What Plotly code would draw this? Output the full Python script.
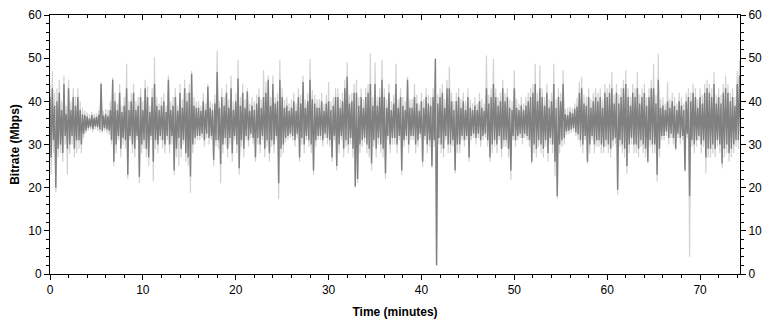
import numpy as np
import plotly.graph_objects as go

# Bitrate, in bins of 0.25 minute.
# dark_hi / dark_lo: dark gray series max / min per bin
# light_hi / light_lo: light gray series max / min per bin
dark_hi = [
    41,43,39,40, 42,38,44,37, 43,38,41,39, 41,38,37,36.8, 36.5,36,36.8,36.2,
    36.4,36.9,44,36.7, 37,36.6,38,45, 40,38,42,37.5, 39,43,38,40, 42,38,39,41,
    38,43,41,37.5, 41,44,39,38, 39,40,37.5,45, 38,39,41,37.8, 42,38.5,43,40,
    42,46.4,39,38.5, 38.5,37.8,40,38, 43.4,38.5,38,39.5, 46.8,38.5,41,39, 42,38.5,43,38,
    40,45.3,39,42, 38.5,42.3,37.8,39, 38,39.5,41,38.5, 41,42,45,39, 44,39.5,40,45,
    41,38.5,39,37.8, 38.5,40,37.8,41, 39.5,44.5,38.5,40, 45,40.5,39.5,38.5, 38.5,40,37.8,39.5,
    40,38,39,41, 41,38.5,40,43, 45.7,39.5,40,42, 42,39,41,38.5, 41,42,44,39,
    44,39,41,45, 41,38.5,42,38, 39.5,44,38.5,41, 39,38,45,38.5, 38.5,41,39.5,37.8,
    40,38.5,41,39.5, 39,41,49.8,39.5, 41,42,38.5,43, 43,40,38,40, 41,38.5,40,38,
    41,38.5,38,39, 38,40,38.5,37.8, 43,39.5,41,44, 41,39,40,43, 40,41,38.5,38,
    43,38.5,38,39, 38,39,40,41, 42,44,40,43, 41,39,42,38.5, 40,44,38.5,41,
    40,44,37,36.8, 37.6,37.2,38.3,38.8, 42,43,39.5,39, 41,38.5,40,41, 40,41,38.5,42,
    41,42,43,39.5, 42,39.5,41,43, 44,41,39,42, 41,43,39.5,41, 42,39,41,43,
    43,39.5,45,38.5, 39,38,40,38.5, 40,39,38,40, 39,38,40,41, 40,42,41,38.5,
    41,39.5,42,43, 42,41,44,39.5, 41,39.5,42,43, 42,40,41,39, 44,46,
]
dark_lo = [
    27,31,20,29, 30,28,32,29, 30,32,29,31, 31,30,32.5,33.2, 33.8,34,33.6,34.2,
    34,33.5,33.2,33.8, 33.5,33.2,31,26, 30,32,29,31.5, 31,23,32,30, 29,32,22.5,30,
    31,29,27,32, 26,31,30,32, 31,30,32,30, 32,24,29,31.5, 29,31,28,27,
    22.6,30,31.5,32, 32,32.5,31,32.5, 31.5,32,26.4,31, 31,25.4,30,31.5, 29,31.5,28,32,
    30,24.5,31,29, 32,31,32.5,31.5, 27,31.5,30,32, 29,31,28,31, 30,32,21,29,
    30,31.5,32,32.5, 32,31,32.5,27, 31.5,30,32,31, 30,24,31,32, 32,31,32.5,31.5,
    31,27,32,25, 30,32,29,31, 30,31.5,29,20.3, 22,30,31,31.5, 30,29,25.6,31,
    29,31.5,30,29, 23.3,32,30,31.5, 31.5,30,32,24, 31,32,30,32, 32,30,31,32.5,
    26,32,30,31, 25,31,2.0,31.5, 30,29,32,30, 30,31,24,30, 30,32,31,32,
    27,32,32.5,31.5, 32.5,31,32,32.5, 31,27,30,31, 30,32,29,31, 31,29,24,32,
    31,32,32.5,31.5, 32.5,32,31,26, 30,29,31,30, 29,31,28,31.5, 30,26,18,30,
    31,31.5,33,33.2, 33.5,33.8,32.8,32.3, 31,30,32,26, 30,32,30,31, 31,30,29.5,31,
    30,29,31,31.5, 19.5,31,30,29, 25,30,31.5,30, 30,29,31,30, 29,26,31,30,
    30,23,29,32, 32,33,31.5,32.5, 31.5,29,32.5,31.5, 32,24,32.5,18, 31,30,31,32,
    30,31,27,29, 29,30,29,31, 30,25.6,29,30, 28,29,30,31, 31,32,
]
light_hi = [
    44,47,42,43, 45,40,46,39, 45,40,43,41, 43,40,38.5,37.8, 37.4,37,37.6,37.1,
    37.3,37.9,44.5,37.8, 38.2,38,40,45.5, 42,39.5,44,39, 41,48.7,40,42, 44,40,41,43,
    40,45,43.5,39, 43,50.2,41,39.5, 41,42,39,46, 40,41,43,39, 44,40.5,45,42,
    44,47,41,40, 40,39,42,39.5, 44,40,39.5,41.5, 51.7,40,43,41, 44,40.5,46,40,
    42,49.5,41,44, 40.5,43,39.5,41, 40,41.5,43,40.5, 47.2,44.5,46,41, 46,41,42,49.5,
    43,40.5,41,39.5, 40.5,42,39.5,43, 41.5,46,40.5,42, 49.8,42.5,41.5,40.5, 40.5,42,39.5,41.5,
    44.5,40,41,43, 43,40.5,42,45, 49,41.5,42,44, 45,41,43,40.5, 43,44,51,41,
    49,41,43,49.5, 43,40.5,44,40, 41.5,48.7,40.5,43, 41,40,45.7,40.5, 40.5,44,41.5,39.5,
    42,40.5,43,41.5, 41,43,50,41.5, 43,44,40.5,45, 48,42,40,42, 43,40.5,42,40,
    43,40.5,39.5,41, 39.5,42,40.5,39.5, 50.6,41.5,43,49.8, 43,41,42,45, 42,43,40.5,40,
    47.2,40.5,39.5,41, 39.5,41,42,43, 44,48.7,42,48.3, 43,41,44,40.5, 42,48.7,40.5,43,
    42,47.2,38.2,38.5, 38.8,38.4,39.5,40.8, 44.5,45.7,41.5,41, 43,40.5,42,43, 42,43,40.5,44,
    43,44,46.8,41.5, 44,41.5,43,45, 47.2,43,41,44, 43,46.8,41.5,43, 44,41,43,45,
    48.7,41.5,51,40.5, 41,39.5,44.5,40.5, 42,41,39.5,42, 41,39.5,42,43, 42,44,43,40.5,
    43,41.5,44,45, 44,43,46.8,41.5, 43,41.5,44,46, 44,42,43,41, 47,49.5,
]
light_lo = [
    23,28,19,27, 28,26,30,23, 28,30,27,28, 29,28,31.5,32.6, 33.2,33.4,32.9,33.5,
    33.2,32.8,32.6,33.1, 32.6,32.2,30,25, 28,31,27,30, 29,22,31,28, 27,31,21,28,
    29,27,25,31, 21.5,29,28,31, 29,28,31,28, 30,23,27,25, 27,30,26,25,
    18.8,28,30,31, 31,31.5,29.5,31.5, 30,31,25,29.5, 29,21,28,30, 27,30,26,31,
    28,23,29.5,27, 31,29.5,31.5,30, 26,30,28,31, 27,29.5,26,29.5, 28,31,17.3,27,
    28,30.5,31,31.5, 31,29.5,31.5,26, 30,28,31,29.5, 28,23,29.5,31, 31,29.5,31.5,30,
    29.5,26,31,24, 28,31,27,29.5, 28,30,27,20, 21,28,29.5,30.5, 28,27,24,29.5,
    27,30,28,27, 22,31,28,30, 30,28,31,23, 29.5,31,28,31, 31,28,29.5,31.5,
    24.8,31,28,29.5, 24.5,29.5,2.0,30, 28,27,31,28, 28,29.5,23.3,28, 28,31,29.5,31,
    26,31,31.5,30, 31.5,29.5,31,31.5, 29.5,26,28,29.5, 28,31,27,29.5, 29.5,27,21.8,31,
    29.5,31,31.5,30, 31.5,31,29.5,25.5, 28,27,29.5,28, 27,29.5,26,30, 28,22.6,17.5,28,
    29.5,30,32.2,32.4, 32.6,33,32,31, 29.5,28,31,25.5, 28,31,28,29.5, 29.5,28,28,29.5,
    28,27,29.5,30, 18.4,29.5,28,27, 23.3,28,30,28, 28,27,29.5,28, 27,25.6,29.5,28,
    28,21.4,27,31, 31,32,30,31.5, 30,28.6,31.5,30, 31,23.7,31.5,4, 29.5,28,29.5,31,
    28,29.5,23.3,27, 27,28,27,29.5, 28,24.5,27,28, 26,27,28,29.5, 29,30,
]

bin_minutes = 0.25
x_ticks = [0, 10, 20, 30, 40, 50, 60, 70]
y_ticks = [0, 10, 20, 30, 40, 50, 60]

def zigzag(hi, lo):
    xs, ys = [], []
    for i, (h, l) in enumerate(zip(hi, lo)):
        t = i * bin_minutes
        xs += [t, t + bin_minutes / 2]
        ys += [h, l]
    return xs, ys

lx, ly = zigzag(light_hi, light_lo)
dx, dy = zigzag(dark_hi, dark_lo)

fig = go.Figure()
fig.add_trace(go.Scatter(x=lx, y=ly, mode="lines",
                         line=dict(color="#d2d2d2", width=1.2, simplify=False),
                         hoverinfo="skip", showlegend=False))
fig.add_trace(go.Scatter(x=dx, y=dy, mode="lines",
                         line=dict(color="#808080", width=1.4, simplify=False),
                         hoverinfo="skip", showlegend=False))
# helper traces so that the right and top axes are drawn
fig.add_trace(go.Scatter(x=[None], y=[None], yaxis="y2", showlegend=False,
                         hoverinfo="skip"))
fig.add_trace(go.Scatter(x=[None], y=[None], xaxis="x2", showlegend=False,
                         hoverinfo="skip"))

font = dict(family="Liberation Sans, Arial, sans-serif", size=12, color="#000")
minor = dict(dtick=2, ticklen=3, ticks="outside", tickcolor="#000")
axis_common = dict(showline=True, linecolor="#000", linewidth=1,
                   ticks="outside", ticklen=5, tickcolor="#000", tickwidth=1,
                   showgrid=False, zeroline=False, tickfont=font,
                   automargin=False, ticklabeloverflow="allow")

# the page adds an 8 px body margin, so the figure is 8 px smaller
fig.update_layout(
    width=762, height=313, autosize=False,
    margin=dict(l=42, r=30, t=7, b=47),
    paper_bgcolor="#fff", plot_bgcolor="#fff",
    font=font,
    xaxis=dict(range=[0, 74.3], tickvals=x_ticks, minor=minor,
               title=dict(text="<b>Time (minutes)</b>", font=font, standoff=11),
               **axis_common),
    xaxis2=dict(range=[0, 74.3], tickvals=x_ticks, overlaying="x", side="top",
                showticklabels=False,
                minor=dict(dtick=2, ticklen=3, ticks="inside", tickcolor="#000"),
                **{**axis_common, "ticks": "inside"}),
    yaxis=dict(range=[0, 60], tickvals=y_ticks, minor=minor,
               title=dict(text="<b>Bitrate (Mbps)</b>", font=font, standoff=10),
               **axis_common),
    yaxis2=dict(range=[0, 60], tickvals=y_ticks, overlaying="y", side="right",
                minor=minor, **axis_common),
)

fig.write_html("out.html")
